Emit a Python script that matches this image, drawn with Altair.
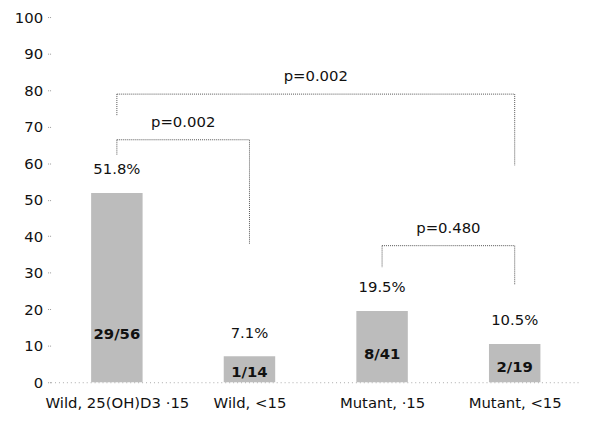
import json
import altair as alt
import pandas as pd

categories = ["Wild, 25(OH)D3 ·15", "Wild, <15", "Mutant, ·15", "Mutant, <15"]
percent = [51.8, 7.1, 19.5, 10.5]
fractions = ["29/56", "1/14", "8/41", "2/19"]
y_ticks = [0, 10, 20, 30, 40, 50, 60, 70, 80, 90, 100]

br_left = [0, 0, 2]
br_right = [3, 1, 3]
br_top = [78.9, 66.4, 37.4]
br_left_end = [72.9, 62.1, 31.4]
br_right_end = [59.3, 37.7, 26.8]
p_labels = ["p=0.002", "p=0.002", "p=0.480"]

FONT = "DejaVu Sans"

bars = pd.DataFrame({
    "i": list(range(len(categories))),
    "cat": categories,
    "pct": percent,
    "pct_label": [f"{v:.1f}%" for v in percent],
    "frac": fractions,
})
bars["frac_y"] = [min(v * 0.4, 13.3) for v in percent]

br = pd.DataFrame({
    "l": br_left, "r": br_right, "top": br_top,
    "le": br_left_end, "re": br_right_end, "p": p_labels,
})
br["mid"] = (br["l"] + br["r"]) / 2

label_expr = json.dumps(categories) + "[datum.value]"

xscale = alt.Scale(domain=[-0.5, 3.5], nice=False, zero=False, padding=0)
yscale = alt.Scale(domain=[0, 100], nice=False, padding=0)

x_axis = alt.Axis(values=[0, 1, 2, 3], labelExpr=label_expr, grid=False, ticks=False,
                  domain=True, domainColor="#aaaaaa", domainDash=[1, 3], domainWidth=1,
                  labelFontSize=15, labelFont=FONT, labelColor="#111111",
                  labelPadding=14, labelOverlap=False, title=None)
y_axis = alt.Axis(values=y_ticks, grid=False, domain=False, tickColor="#999999",
                  tickSize=4, tickDash=[1, 1], labelFontSize=15, labelFont=FONT,
                  labelColor="#111111", labelPadding=4, labelOverlap=False, title=None)


def X(field):
    return alt.X(field, type="quantitative", scale=xscale, axis=x_axis)


def Y(field):
    return alt.Y(field, type="quantitative", scale=yscale, axis=y_axis)


base = alt.Chart(bars)

bar_layer = base.mark_bar(size=52, color="#bcbcbc").encode(x=X("i"), y=Y("pct"))

pct_text = base.mark_text(fontSize=15, font=FONT, color="#111111", dy=-24,
                          baseline="middle").encode(x=X("i"), y=Y("pct"), text="pct_label:N")

frac_text = base.mark_text(fontSize=15, font=FONT, fontWeight="bold", color="#111111",
                           baseline="middle").encode(x=X("i"), y=Y("frac_y"), text="frac:N")

bb = alt.Chart(br)
line_style = dict(color="#555555", strokeDash=[1, 1], strokeWidth=1)

h_rule = bb.mark_rule(**line_style).encode(x=X("l"), x2="r:Q", y=Y("top"))
l_rule = bb.mark_rule(**line_style).encode(x=X("l"), y=Y("top"), y2="le:Q")
r_rule = bb.mark_rule(**line_style).encode(x=X("r"), y=Y("top"), y2="re:Q")
p_text = bb.mark_text(fontSize=15, font=FONT, color="#111111", dy=-18,
                      baseline="middle").encode(x=X("mid"), y=Y("top"), text="p:N")

chart = alt.layer(bar_layer, pct_text, frac_text, h_rule, l_rule, r_rule, p_text).properties(
    width=536, height=369,
    autosize=alt.AutoSizeParams(type="none"),
    padding={"left": 43, "top": 7, "right": 0, "bottom": 36},
    background="white",
).configure_view(stroke=None).configure_axis(
    labelFont=FONT, labelColor="#111111"
).configure_axisY(labelFontSize=15).configure_axisX(labelFontSize=15)

chart.save("out.html", embed_options={"renderer": "svg", "actions": False})
